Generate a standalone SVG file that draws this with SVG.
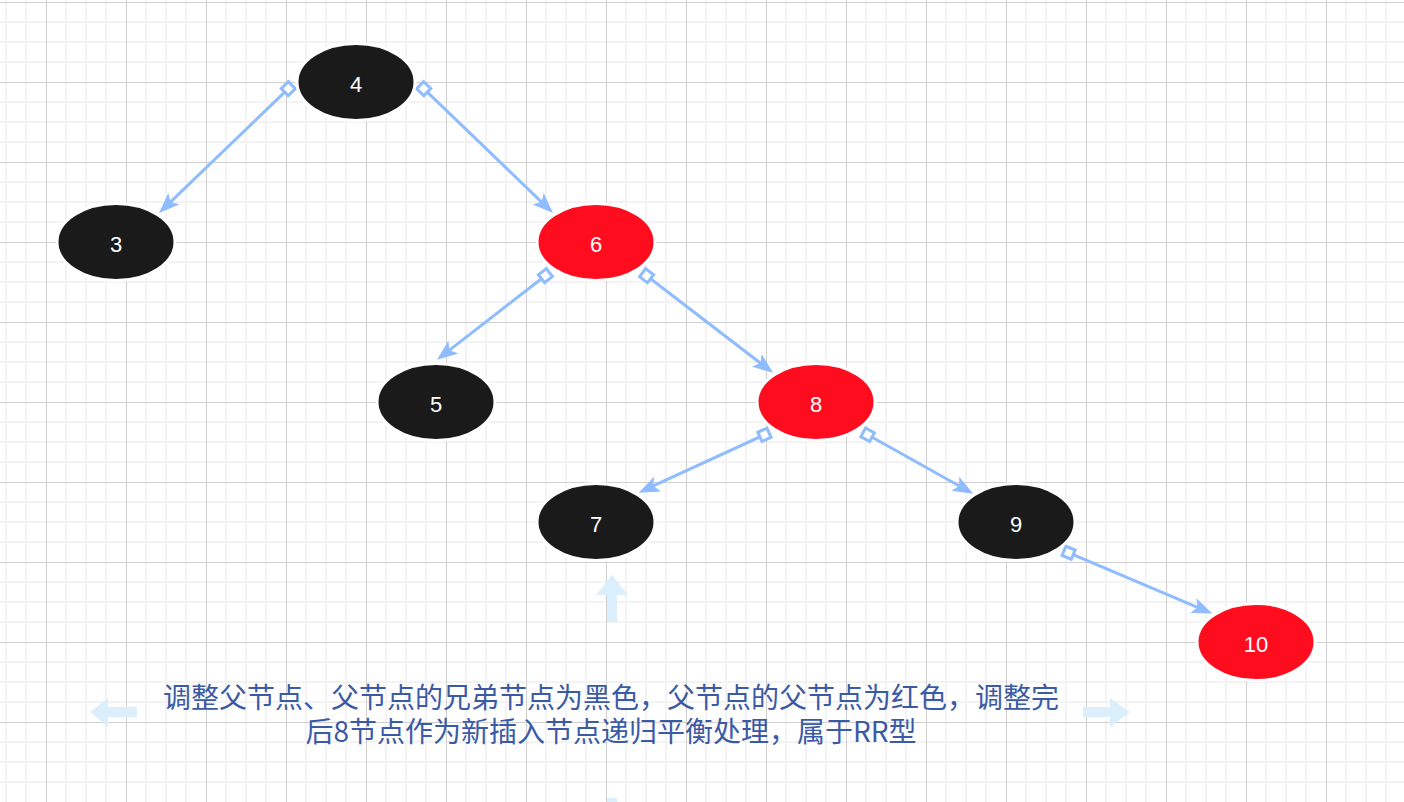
<svg xmlns="http://www.w3.org/2000/svg" width="1404" height="802" viewBox="0 0 1404 802">
  <defs>
    <pattern id="grid" patternUnits="userSpaceOnUse" x="46" y="2" width="80" height="80">
      <rect x="0" y="0" width="80" height="80" fill="#ffffff"/>
      <rect x="19" y="0" width="2" height="80" fill="#f3f3f3"/>
      <rect x="39" y="0" width="2" height="80" fill="#f3f3f3"/>
      <rect x="59" y="0" width="2" height="80" fill="#f3f3f3"/>
      <rect x="0" y="19" width="80" height="2" fill="#f3f3f3"/>
      <rect x="0" y="39" width="80" height="2" fill="#f3f3f3"/>
      <rect x="0" y="59" width="80" height="2" fill="#f3f3f3"/>
      <rect x="0" y="0" width="1" height="80" fill="#d0d0d0"/>
      <rect x="0" y="0" width="80" height="1" fill="#d0d0d0"/>
    </pattern>
    <marker id="sq" markerUnits="userSpaceOnUse" viewBox="-3 -8 16 16" markerWidth="16" markerHeight="16" refX="0" refY="0" orient="auto" overflow="visible">
      <path d="M-1,-5 L9,-5 L9,5 L-1,5 Z" fill="#ffffff" stroke="#8fbbff" stroke-width="3"/>
    </marker>
    <marker id="arr" markerUnits="userSpaceOnUse" viewBox="-2 -9 22 18" markerWidth="22" markerHeight="18" refX="4" refY="0" orient="auto" overflow="visible">
      <path d="M0,-7 L18,0 L0,7 L4,0 Z" fill="#8fbbff" stroke="#8fbbff" stroke-width="1" stroke-linejoin="miter"/>
    </marker>
    <style>
      .edge { fill: none; stroke: #8fbbff; stroke-width: 3; marker-start: url(#sq); marker-end: url(#arr); }
      .blk { fill: #1a1a1a; stroke: #ffffff; stroke-width: 3; }
      .red { fill: #ff0d1e; stroke: #ffffff; stroke-width: 3; }
      .lbl { font-family: "Liberation Sans", Arial, sans-serif; font-size: 22px; fill: #ffffff; text-anchor: middle; }
      .note { font-family: "Noto Sans CJK SC", "Liberation Sans", sans-serif; font-size: 28px; fill: #3b5aa6; text-anchor: middle; }
      .hint { fill: #dbeefb; }
    </style>
  </defs>

  <rect x="0" y="0" width="1404" height="802" fill="url(#grid)"/>

  <g id="connectors">
    <path class="edge" d="M291.2,85.9 L170.1,202.3"/>
    <path class="edge" d="M420.8,85.9 L541.9,202.3"/>
    <path class="edge" d="M548.6,273.2 L449.1,350.4"/>
    <path class="edge" d="M643.4,273.3 L760.9,363.5"/>
    <path class="edge" d="M768.1,433.1 L652.7,486.2"/>
    <path class="edge" d="M864.1,432.8 L959.8,486.2"/>
    <path class="edge" d="M1064.9,551.2 L1198.1,607.6"/>
  </g>

  <g id="node-4">
    <ellipse class="blk" cx="356" cy="82" rx="59" ry="38.5"/>
    <text class="lbl" x="356" y="92">4</text>
  </g>
  <g id="node-3">
    <ellipse class="blk" cx="116" cy="242" rx="59" ry="38.5"/>
    <text class="lbl" x="116" y="252">3</text>
  </g>
  <g id="node-6">
    <ellipse class="red" cx="596" cy="242" rx="59" ry="38.5"/>
    <text class="lbl" x="596" y="252">6</text>
  </g>
  <g id="node-5">
    <ellipse class="blk" cx="436" cy="402" rx="59" ry="38.5"/>
    <text class="lbl" x="436" y="412">5</text>
  </g>
  <g id="node-8">
    <ellipse class="red" cx="816" cy="402" rx="59" ry="38.5"/>
    <text class="lbl" x="816" y="412">8</text>
  </g>
  <g id="node-7">
    <ellipse class="blk" cx="596" cy="522" rx="59" ry="38.5"/>
    <text class="lbl" x="596" y="532">7</text>
  </g>
  <g id="node-9">
    <ellipse class="blk" cx="1016" cy="522" rx="59" ry="38.5"/>
    <text class="lbl" x="1016" y="532">9</text>
  </g>
  <g id="node-10">
    <ellipse class="red" cx="1256" cy="642" rx="59" ry="38.5"/>
    <text class="lbl" x="1256" y="652">10</text>
  </g>

  <g id="hint-arrows">
    <path class="hint" d="M612,575 L628,595 L617,595 L617,622 L607,622 L607,595 L596,595 Z"/>
    <path class="hint" d="M90,712 L108,698 L108,707 L137,707 L137,717 L108,717 L108,727 Z"/>
    <path class="hint" d="M1130,712 L1110,698 L1110,707 L1083,707 L1083,717 L1110,717 L1110,727 Z"/>
    <path class="hint" d="M607,798 L617,798 L617,830 L607,830 Z"/>
  </g>

  <g id="note">
    <text class="note" x="611" y="708">调整父节点、父节点的兄弟节点为黑色，父节点的父节点为红色，调整完</text>
    <text class="note" x="611" y="742">后8节点作为新插入节点递归平衡处理，属于RR型</text>
  </g>
</svg>
